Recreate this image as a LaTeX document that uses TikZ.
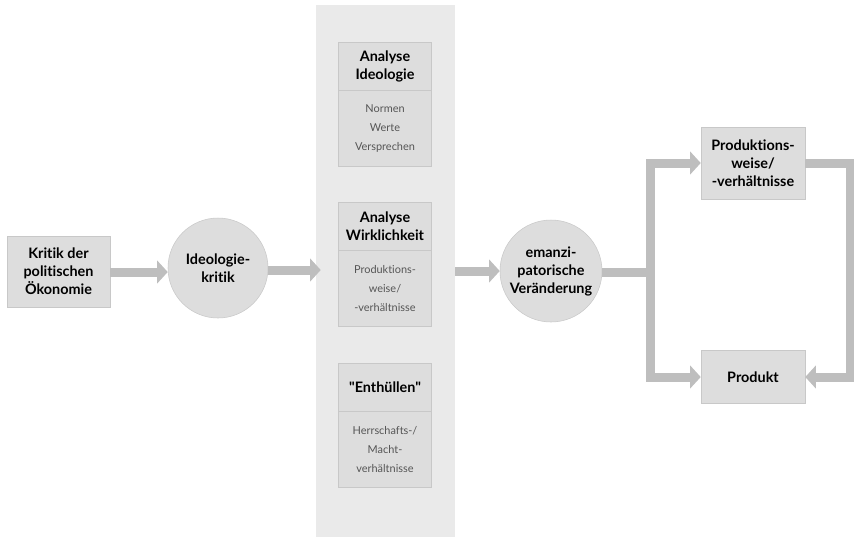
\documentclass[tikz,border=0pt]{standalone}
\usepackage{fontspec}
\setmainfont{Lato}[Ligatures=NoCommon]
\usetikzlibrary{arrows.meta,positioning,calc}
\definecolor{PanelGray}{RGB}{234,234,234}
\definecolor{BoxGray}{RGB}{221,221,221}
\definecolor{EdgeGray}{RGB}{200,200,200}
\definecolor{FlowGray}{RGB}{190,190,190}
\definecolor{TextGray}{RGB}{85,85,85}

\begin{document}
\begin{tikzpicture}[x=0.75pt,y=-0.75pt,
  box/.style={draw=EdgeGray,fill=BoxGray,inner sep=0pt,align=center,
    font=\bfseries\fontsize{10.8}{13.5}\selectfont},
  bubble/.style={circle,draw=EdgeGray,fill=BoxGray,inner sep=0pt,align=center,
    font=\bfseries\fontsize{10.8}{13.5}\selectfont},
  head/.style={box,minimum width=69.75pt,minimum height=36pt},
  body/.style={draw=EdgeGray,fill=BoxGray,inner sep=0pt,align=center,
    minimum width=69.75pt,minimum height=57pt,text=TextGray,
    font=\fontsize{8.2}{13.9}\selectfont},
  flow/.style={FlowGray,line width=6.75pt,
    -{Triangle[length=8pt,width=17pt]}},
  node distance=0pt]
  \useasboundingbox (0,0) rectangle (854,537);

  % middle column
  \node[fill=PanelGray,minimum width=104.25pt,minimum height=399pt,inner sep=0pt]
    (panel) at (385.5,271) {};
  \node[head] (h1) at (385,66) {Analyse\\Ideologie};
  \node[body,below=of h1] (b1) {Normen\\Werte\\Versprechen};
  \node[head] (h2) at (385,226) {Analyse\\Wirklichkeit};
  \node[body,below=of h2] (b2) {Produktions-\\weise/\\-verhältnisse};
  \node[head] (h3) at (385,387) {\addfontfeatures{Ligatures=TeXOff}"Enthüllen"};
  \node[body,below=of h3] (b3) {Herrschafts-/\\Macht-\\verhältnisse};

  % left side
  \node[box,minimum width=77.25pt,minimum height=53.25pt] (kritik) at (58.5,271.5)
    {Kritik der\\politischen\\Ökonomie};
  \node[bubble,minimum size=75pt] (ideo) at (218,268) {Ideologie-\\kritik};

  % right side
  \node[bubble,minimum size=76.5pt] (eman) at (551,271)
    {emanzi-\\patorische\\Veränderung};
  \node[box,minimum width=78pt,minimum height=54pt] (weise) at (753,163)
    {Produktions-\\weise/\\-verhältnisse};
  \node[box,minimum width=78pt,minimum height=39.75pt] (produkt) at (753,377)
    {Produkt};
  \coordinate (split) at (650,272);

  \draw[flow] (kritik.east |- 0,272) -- (ideo.west |- 0,272);
  \draw[flow] (ideo.east |- 0,270) -- ($(panel.west |- 0,270)+(5,0)$);
  \draw[flow] (panel.east |- 0,271) -- (eman.west |- 0,271);
  \draw[FlowGray,line width=6.75pt] (eman.east |- split) -- (split);
  \draw[flow] ($(split)+(0,3.4)$) |- (weise.west);
  \draw[flow] ($(split)-(0,3.4)$) |- (produkt.west);
  \draw[flow] (weise.east) -- ++(45,0) |- (produkt.east);
\end{tikzpicture}
\end{document}
